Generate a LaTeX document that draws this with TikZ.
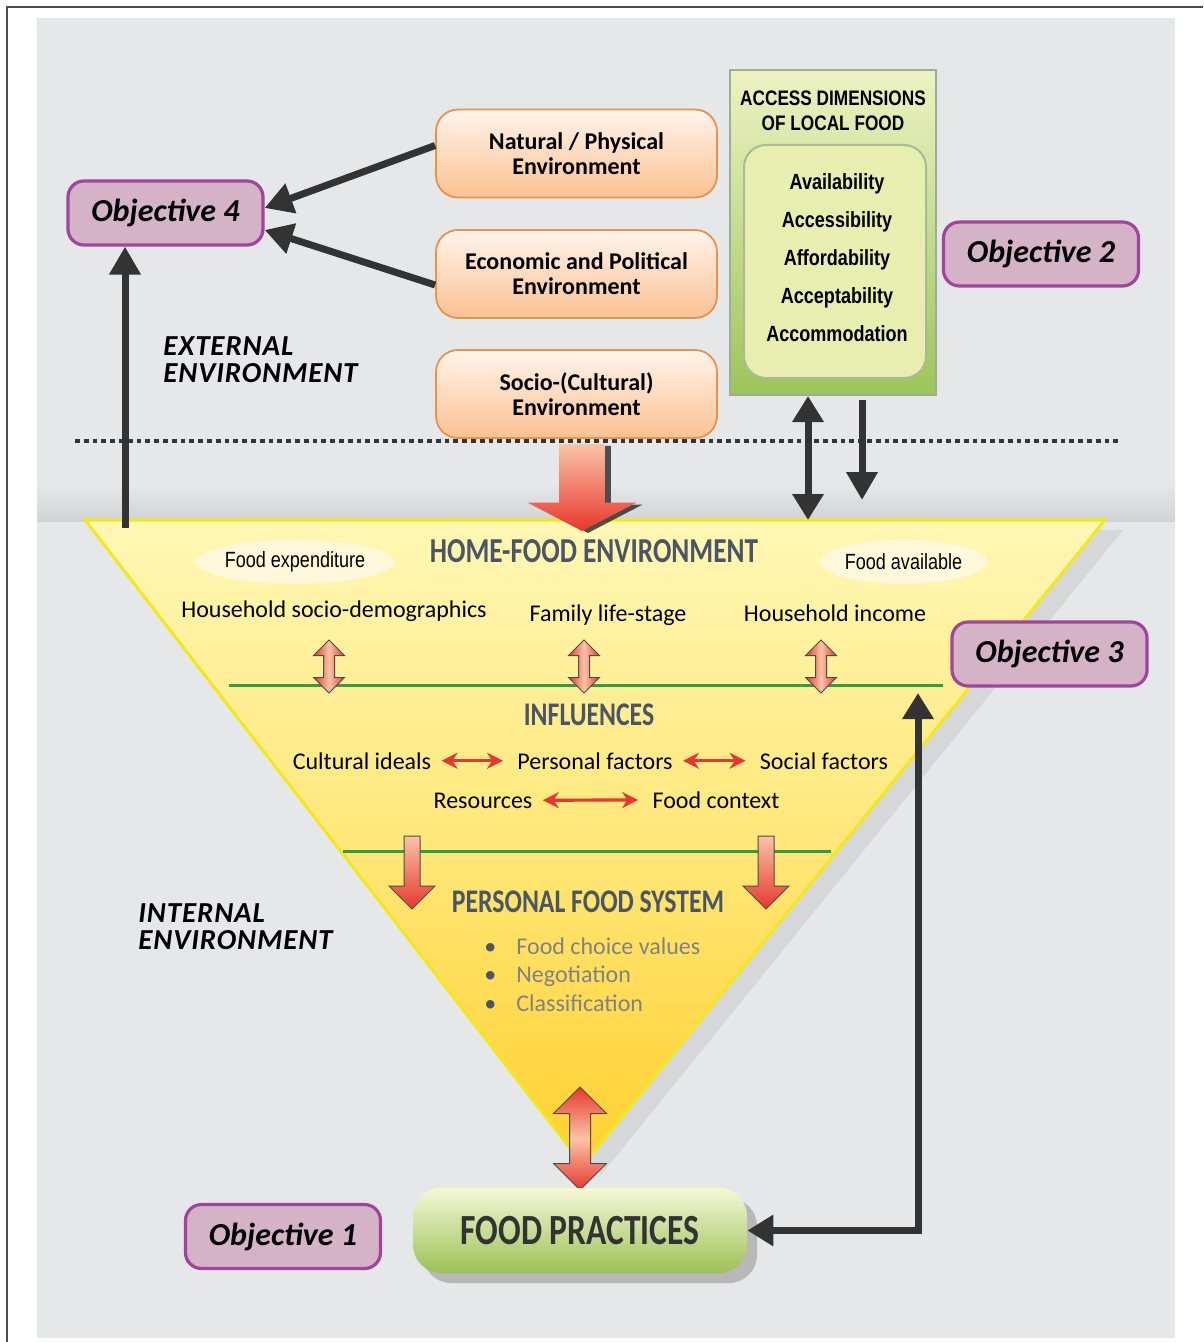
\documentclass[tikz,border=0pt]{standalone}
\usepackage{fontspec}
\setmainfont{Carlito}
\newfontfamily\narrowfont[FakeStretch=0.82]{Liberation Sans}
\newfontfamily\condfont[FakeStretch=0.78]{Carlito}
\newfontfamily\envfont[LetterSpace=3]{Carlito}
\usetikzlibrary{arrows.meta, shapes.geometric, shapes.arrows, shadows}

\definecolor{panelgray}{HTML}{E6E7E9}
\definecolor{objline}{HTML}{A2449E}
\definecolor{objfill}{HTML}{D4B3C6}
\definecolor{orline}{HTML}{E8934A}
\definecolor{ortop}{HTML}{FFF3EA}
\definecolor{orbot}{HTML}{FBC293}
\definecolor{acctop}{HTML}{EDF2C2}
\definecolor{accbot}{HTML}{9DC55A}
\definecolor{accline}{HTML}{9AAE98}
\definecolor{innerfill}{HTML}{E7EEB0}
\definecolor{innerline}{HTML}{A9BB96}
\definecolor{tritop}{HTML}{FFF7B5}
\definecolor{trimid}{HTML}{FFE779}
\definecolor{tribot}{HTML}{FFD02E}
\definecolor{triline}{HTML}{F4E81C}
\definecolor{slate}{HTML}{4A5567}
\definecolor{arrred}{HTML}{E8372C}
\definecolor{arrpale}{HTML}{F9C4A8}
\definecolor{divgreen}{HTML}{2E9E48}
\definecolor{cream}{HTML}{FFF8DA}
\definecolor{bulletgray}{HTML}{808284}
\definecolor{darkarr}{HTML}{333333}
\definecolor{fptop}{HTML}{F5F7D6}
\definecolor{fpbot}{HTML}{9BC257}

\begin{document}
\begin{tikzpicture}[x=0.5pt, y=-0.5pt,
    objbox/.style={draw=objline, line width=1.6pt, fill=objfill, rounded corners=8pt, minimum width=97.5pt, minimum height=32pt, font=\fontsize{16}{19}\selectfont\bfseries\itshape},
    envbox/.style={draw=orline, line width=.9pt, top color=ortop, bottom color=orbot, rounded corners=11pt, minimum width=140.5pt, minimum height=44pt, align=center, font=\fontsize{12}{12.5}\selectfont\bfseries},
    bodytxt/.style={inner sep=0pt, anchor=base, font=\fontsize{12}{14}\selectfont},
    headtxt/.style={inner sep=0pt, text=slate, font=\condfont\bfseries\fontsize{17.5}{20}\selectfont},
    oval/.style={ellipse, fill=cream, inner sep=0pt, minimum height=22pt, font=\narrowfont\fontsize{11}{13}\selectfont},
    envlabel/.style={anchor=west, inner sep=0pt, align=left, font=\envfont\bfseries\itshape\fontsize{14.5}{13.5}\selectfont},
    darr/.style={draw=darkarr, line width=3.5pt, -{Triangle[width=15pt,length=14pt]}},
    dblarr/.style={draw=darkarr, line width=3.5pt, {Triangle[width=15pt,length=13pt]}-{Triangle[width=15pt,length=13pt]}},
    dotline/.style={draw=darkarr, line width=2.4pt, dash pattern=on 2.4pt off 2pt},
    divline/.style={draw=divgreen, line width=1.5pt},
    redlink/.style={draw=arrred, line width=1.6pt, {Stealth[length=8pt,width=8pt]}-{Stealth[length=8pt,width=8pt]}, shorten <=5pt, shorten >=7pt},
    vdbl/.style={double arrow, shape border rotate=90, inner sep=2.5pt, minimum height=26.5pt, double arrow head extend=5pt, draw=black!70, line width=.5pt, left color=arrred, right color=arrred, middle color=arrpale},
    vdown/.style={single arrow, shape border rotate=270, inner sep=3.75pt, minimum height=36.5pt, single arrow head extend=7.5pt, draw=black!70, line width=.5pt, top color=arrpale, bottom color=arrred},
    tri/.style={draw=triline, line width=1.5pt, top color=tritop, bottom color=tribot, middle color=trimid, drop shadow={shadow xshift=9pt, shadow yshift=-5pt, opacity=.15}}]
\useasboundingbox (0,0) rectangle (1203,1342);
\fill[panelgray] (37,18) rectangle (1175,1338);
\shade[top color=panelgray, bottom color=black!9!panelgray] (37,484) rectangle (1175,521);
\draw[black!70, line width=1pt] (7,1342) -- (7,7) -- (1203,7);
\coordinate (tl) at (85,520); \coordinate (tr) at (1105,520); \coordinate (tip) at (583,1165);
\draw[dotline] (75,441) -- (1118,441);
\path[tri] (tl) -- (tr) -- (tip) -- cycle;
\draw[divline] (229,685) -- (943,685);
\draw[divline] (343,851) -- (831,851);

\node[envbox] (nat) at (576.5,153.5) {Natural / Physical\\Environment};
\node[envbox] (eco) at (576.5,274) {Economic and Political\\Environment};
\node[envbox] (socio) at (576.5,394) {Socio-(Cultural)\\Environment};
\node[single arrow, shape border rotate=270, inner sep=11.25pt, minimum height=43.5pt, single arrow head extend=15.75pt, single arrow tip angle=125, top color=arrpale, bottom color=arrred, drop shadow={shadow xshift=3pt, shadow yshift=-1pt, opacity=.85, fill=darkarr}] (sarr) at (582,481.5) {};

\node[draw=accline, line width=1pt, top color=acctop, bottom color=accbot, minimum width=103pt, minimum height=162.5pt] (acc) at (833,232.5) {};
\node[align=center, inner sep=0pt, font=\narrowfont\bfseries\fontsize{10.5}{12.5}\selectfont] (acct) at (833,110.5) {ACCESS DIMENSIONS\\OF LOCAL FOOD};
\node[draw=innerline, line width=1pt, fill=innerfill, rounded corners=11pt, minimum width=91pt, minimum height=116.5pt] (dimbox) at (835,261.5) {};
\node[align=center, inner sep=0pt, font=\narrowfont\bfseries\fontsize{11}{19}\selectfont] (dims) at (837,257.5) {Availability\\Accessibility\\Affordability\\Acceptability\\Accommodation};

\node[objbox] (obj4) at (165.5,213) {Objective 4};
\node[objbox] (obj2) at (1041,254) {Objective 2};
\node[objbox] (obj3) at (1049.5,654) {Objective 3};
\node[objbox] (obj1) at (283,1236.5) {Objective 1};

\node[envlabel] (ext) at (163,359.5) {EXTERNAL\\ENVIRONMENT};
\node[envlabel] (int) at (138,926.5) {INTERNAL\\ENVIRONMENT};

\node[headtxt] (hfe) at (594,551) {HOME-FOOD ENVIRONMENT};
\node[oval, minimum width=92pt] (fexp) at (295,562) {Food expenditure};
\node[oval, minimum width=83.5pt] (favail) at (903.5,562) {Food available};
\node[bodytxt] (hsd) at (334,617) {Household socio-demographics};
\node[bodytxt] (fls) at (608,621) {Family life-stage};
\node[bodytxt] (hinc) at (835,621) {Household income};
\node[vdbl] (a1) at (329,666.5) {};
\node[vdbl] (a2) at (584,666.5) {};
\node[vdbl] (a3) at (821,666.5) {};

\node[headtxt, font=\condfont\bfseries\fontsize{16.5}{20}\selectfont] (infl) at (589,715) {INFLUENCES};
\node[bodytxt] (cult) at (362,769) {Cultural ideals};
\node[bodytxt] (pers) at (595,769) {Personal factors};
\node[bodytxt] (socf) at (824,769) {Social factors};
\node[bodytxt] (res) at (483,808) {Resources};
\node[bodytxt] (fctx) at (716,808) {Food context};
\draw[redlink] (cult) -- (pers);
\draw[redlink] (pers) -- (socf);
\draw[redlink] (res) -- (fctx);

\node[vdown] (d1) at (412,868.5) {};
\node[vdown] (d2) at (766,868.5) {};
\node[headtxt, font=\condfont\bfseries\fontsize{16.5}{20}\selectfont] (pfs) at (588,902) {PERSONAL FOOD SYSTEM};
\node[anchor=west, inner sep=0pt, align=left, text=bulletgray, font=\fontsize{12}{14.3}\selectfont] (pfsl) at (484,974.5)
  {\makebox[16pt][l]{\textcolor{slate}{\textbullet}}Food choice values\\\makebox[16pt][l]{\textcolor{slate}{\textbullet}}Negotiation\\\makebox[16pt][l]{\textcolor{slate}{\textbullet}}Classification};

\node[double arrow, shape border rotate=90, inner sep=5pt, minimum height=51.5pt, double arrow head extend=8pt, draw=black!70, line width=.5pt, top color=arrred, bottom color=arrred, middle color=arrpale] (parr) at (580,1138.5) {};
\node[rounded corners=14pt, minimum width=167pt, minimum height=42.5pt, top color=fptop, bottom color=fpbot, text=darkarr, font=\condfont\bfseries\fontsize{21.5}{24}\selectfont, drop shadow={shadow xshift=5pt, shadow yshift=-5pt, opacity=.45}] (fp) at (580,1230.5) {\raisebox{-3pt}{FOOD PRACTICES}};

\draw[darr] ([yshift=4pt]nat.west) -- ([yshift=2.5pt]obj4.east);
\draw[darr] ([yshift=-5.5pt]eco.west) -- ([yshift=-8.5pt]obj4.east);
\coordinate (o4foot) at (125,528);
\draw[darr] (o4foot) -- (o4foot |- obj4.south);
\coordinate (accfoot) at (808,520);
\draw[dblarr] (accfoot) -- (accfoot |- acc.south);
\coordinate (accdown) at (862,500);
\draw[darr] (accdown |- acc.south) ++(0,4) -- (accdown);
\coordinate (o3in) at (918,693);
\draw[dblarr] (fp.east) -| (o3in);
\end{tikzpicture}
\end{document}
